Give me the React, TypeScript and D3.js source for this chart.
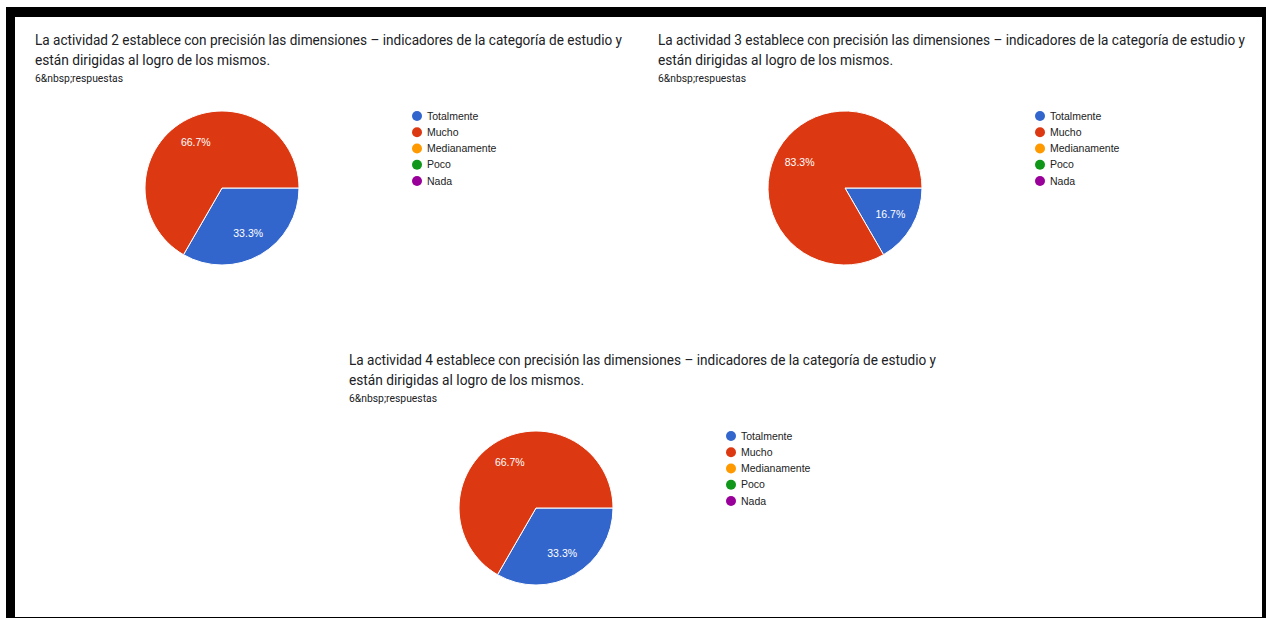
import React from "react";
import * as d3 from "d3";

const categories = ["Totalmente", "Mucho", "Medianamente", "Poco", "Nada"];
const colors = ["#3366cc", "#dc3912", "#ff9900", "#109618", "#990099"];
const activity2 = [2, 4, 0, 0, 0];
const activity3 = [1, 5, 0, 0, 0];
const activity4 = [2, 4, 0, 0, 0];
const titleLine1 = [
  "La actividad 2 establece con precisión las dimensiones – indicadores de la categoría de estudio y",
  "La actividad 3 establece con precisión las dimensiones – indicadores de la categoría de estudio y",
  "La actividad 4 establece con precisión las dimensiones – indicadores de la categoría de estudio y",
];
const titleLine2 = "están dirigidas al logro de los mismos.";
const responses = "6&nbsp;respuestas";

const W = 1266;
const H = 619;

type PanelProps = { x: number; y: number; values: number[]; title: string };

function Panel({ x, y, values, title }: PanelProps) {
  const r = 77;
  const cx = x + 187;
  const cy = y + 143;
  const total = d3.sum(values);
  const pie = d3
    .pie<number>()
    .sort(null)
    .value((d) => d)
    .startAngle(Math.PI / 2)
    .endAngle(Math.PI / 2 + 2 * Math.PI);
  const arcs = pie(values);
  const arc = d3.arc<d3.PieArcDatum<number>>().innerRadius(0).outerRadius(r);
  const labelArc = d3
    .arc<d3.PieArcDatum<number>>()
    .innerRadius(r * 0.68)
    .outerRadius(r * 0.68);
  const legendY = d3
    .scalePoint<string>()
    .domain(categories)
    .range([y + 71, y + 136]);
  const legendX = x + 382;
  return (
    <g>
      <text
        x={x}
        y={y}
        fontFamily="Roboto, 'Open Sans', sans-serif"
        fontSize={14}
        fill="#202124"
        textLength={587}
        lengthAdjust="spacingAndGlyphs"
      >
        {title}
      </text>
      <text
        x={x}
        y={y + 20}
        fontFamily="Roboto, 'Open Sans', sans-serif"
        fontSize={14}
        fill="#202124"
        textLength={235}
        lengthAdjust="spacingAndGlyphs"
      >
        {titleLine2}
      </text>
      <text
        x={x}
        y={y + 37}
        fontFamily="Roboto, sans-serif"
        fontSize={10}
        fill="#202124"
        textLength={88}
        lengthAdjust="spacingAndGlyphs"
      >
        {responses}
      </text>
      <g transform={`translate(${cx},${cy})`}>
        {arcs.map((a, i) =>
          a.value > 0 ? (
            <path key={i} d={arc(a) || ""} fill={colors[i]} stroke="#fff" strokeWidth={1} />
          ) : null
        )}
        {arcs.map((a, i) => {
          if (a.value <= 0) return null;
          const [lx, ly] = labelArc.centroid(a);
          return (
            <text
              key={"l" + i}
              x={lx}
              y={ly}
              dy="0.35em"
              textAnchor="middle"
              fontFamily="'Liberation Sans', Arial, sans-serif"
              fontSize={10.5}
              fill="#fff"
            >
              {((a.value / total) * 100).toFixed(1) + "%"}
            </text>
          );
        })}
      </g>
      {categories.map((c, i) => (
        <g key={c}>
          <circle cx={legendX} cy={legendY(c)!} r={5} fill={colors[i]} />
          <text
            x={legendX + 10}
            y={legendY(c)!}
            dy="0.35em"
            fontFamily="'Liberation Sans', Arial, sans-serif"
            fontSize={10.5}
            fill="#222"
          >
            {c}
          </text>
        </g>
      ))}
    </g>
  );
}

export default function App() {
  return (
    <svg
      width={W}
      height={H}
      style={{ position: "absolute", left: 0, top: 0, background: "#fff" }}
    >
      <rect x={0} y={0} width={W} height={H} fill="#fff" />
      <rect x={6} y={7} width={W - 6} height={612 - 1} fill="#000" />
      <rect x={15} y={17} width={1247} height={600} fill="#fff" />
      <Panel x={35} y={45} values={activity2} title={titleLine1[0]} />
      <Panel x={658} y={45} values={activity3} title={titleLine1[1]} />
      <Panel x={349} y={365} values={activity4} title={titleLine1[2]} />
    </svg>
  );
}
